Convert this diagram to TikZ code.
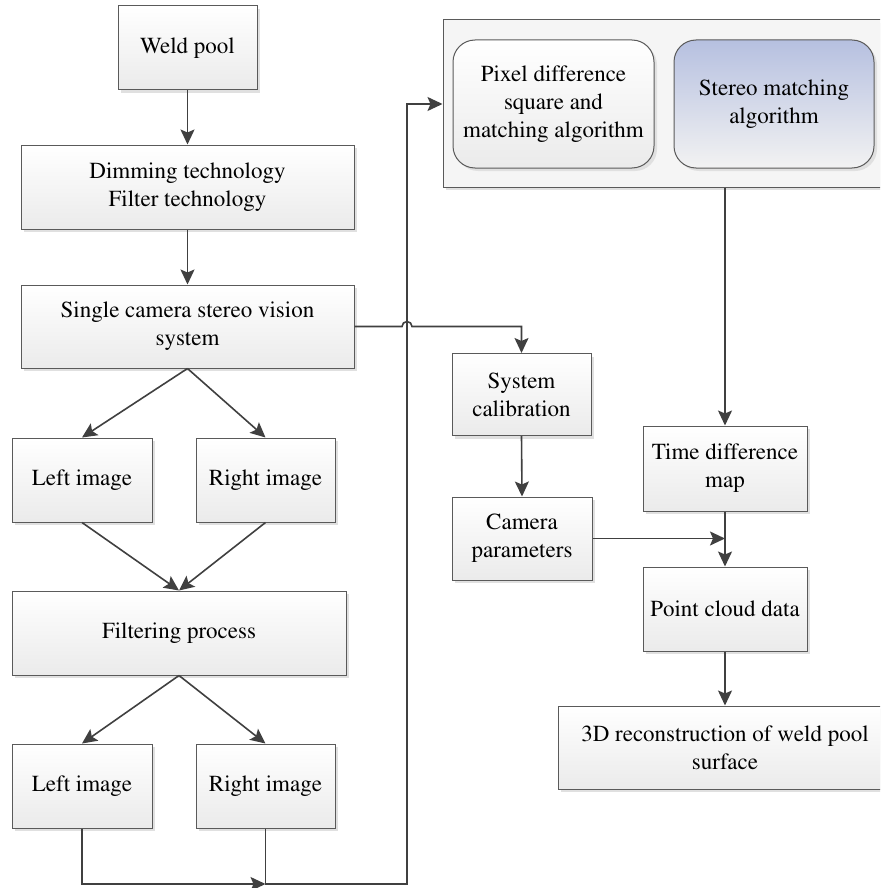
\documentclass[tikz,border=0pt]{standalone}
\usepackage[T1]{fontenc}
\usepackage{mathptmx}
\usetikzlibrary{arrows.meta,shadows,positioning}
\definecolor{linec}{HTML}{404040}
\definecolor{edgec}{HTML}{5A5A5A}
\definecolor{bluetop}{HTML}{B6C0E0}
\tikzset{
  box/.style={draw=edgec, line width=1pt, top color=white, bottom color=black!8,
    align=center, inner sep=2pt, font=\fontsize{23}{28}\selectfont,
    drop shadow={shadow xshift=3pt, shadow yshift=-3pt, fill=black!12, opacity=1}},
  rbox/.style={box, rounded corners=22pt},
  bluebox/.style={rbox, top color=bluetop, bottom color=black!5},
  holder/.style={draw=edgec, line width=1pt, fill=black!4,
    drop shadow={shadow xshift=3pt, shadow yshift=-3pt, fill=black!12, opacity=1}},
  conn/.style={draw=linec, line width=1.6pt, -{Stealth[length=15pt,width=14pt,inset=3pt]}},
  plain/.style={draw=linec, line width=1.6pt}
}
\begin{document}
\begin{tikzpicture}[x=1pt,y=-1pt]
\clip (0,0) rectangle (880,888);
\fill[white] (0,0) rectangle (880,888);
% container
\node[holder, minimum width=441, minimum height=167, inner sep=0pt] (cont) at (663.5,103.5) {};
\node[rbox, minimum width=201, minimum height=128] (pixel) at (553.5,104) {Pixel difference\\square and\\matching algorithm};
\node[bluebox, minimum width=200, minimum height=128] (stereo) at (774,104) {Stereo matching\\algorithm};
% left column
\node[box, minimum width=139, minimum height=84] (weld) at (187.5,48) {Weld pool};
\node[box, minimum width=333, minimum height=84] (dim) at (187.5,187) {Dimming technology\\Filter technology};
\node[box, minimum width=333, minimum height=83] (single) at (187.5,326.5) {Single camera stereo vision\\system};
\node[box, minimum width=140, minimum height=84] (left1) at (82,480) {Left image};
\node[box, minimum width=139, minimum height=84] (right1) at (265.5,480) {Right image};
\node[box, minimum width=334, minimum height=84] (filt) at (179,633) {Filtering process};
\node[box, minimum width=140, minimum height=84] (left2) at (82,786) {Left image};
\node[box, minimum width=139, minimum height=84] (right2) at (265.5,786) {Right image};
% middle / right
\node[box, minimum width=139, minimum height=82] (syscal) at (521.5,394.5) {System\\calibration};
\node[box, minimum width=140, minimum height=83] (campar) at (522,538.5) {Camera\\parameters};
\node[box, minimum width=164, minimum height=85] (timed) at (725,468.5) {Time difference\\map};
\node[box, minimum width=164, minimum height=84] (point) at (725,609) {Point cloud data};
\node[box, minimum width=334, minimum height=83] (recon) at (725,747.5) {3D reconstruction of weld pool\\surface};
% coordinates
\coordinate (bl) at (82,884);
\coordinate (br) at (265.5,884);
\coordinate (bx) at (407,884);
\coordinate (tx) at (407,104);
\coordinate (hopA) at (402,326.5);
\coordinate (turn) at (521.5,326.5);
% connectors
\draw[conn] (weld.south) -- (dim.north);
\draw[conn] (dim.south) -- (single.north);
\draw[conn] (single.south) -- (left1.north);
\draw[conn] (single.south) -- (right1.north);
\draw[conn] (left1.south) -- (filt.north);
\draw[conn] (right1.south) -- (filt.north);
\draw[conn] (filt.south) -- (left2.north);
\draw[conn] (filt.south) -- (right2.north);
\draw[conn] (left2.south) -- (bl) -- (br);
\draw[conn] (right2.south) -- (br) -- (bx) -- (tx) -- (cont.west |- tx);
\draw[conn] (single.east) -- (hopA) arc[start angle=180, end angle=0, radius=5pt] -- (turn) -- (syscal.north);
\draw[conn] (syscal.south) -- (campar.north);
\draw[conn] (timed.north |- cont.south) -- (timed.north);
\draw[conn] (timed.south) -- (point.north);
\draw[conn] (campar.east) -- (campar.east -| timed.south);
\draw[conn] (point.south) -- (recon.north);
\end{tikzpicture}
\end{document}
